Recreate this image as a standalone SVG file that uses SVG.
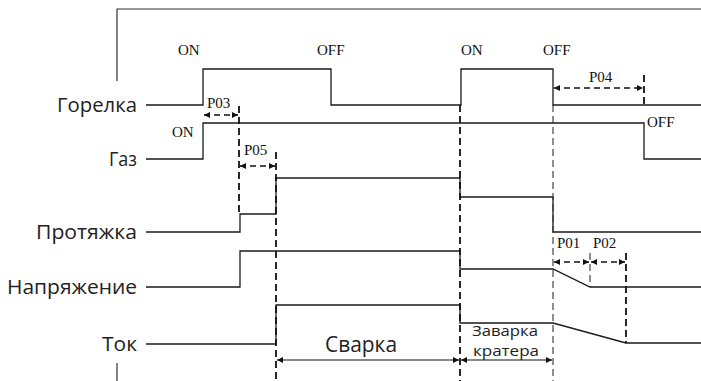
<svg xmlns="http://www.w3.org/2000/svg" width="701" height="381" viewBox="0 0 701 381">
<style>
.sig{fill:none;stroke:#1a1a1a;stroke-width:1.3}
.frame{fill:none;stroke:#333;stroke-width:1.2}
.dk{fill:none;stroke:#111;stroke-width:1.8;stroke-dasharray:7 4}
.dl{fill:none;stroke:#333;stroke-width:1.1;stroke-dasharray:7 4}
.arr{fill:none;stroke:#111;stroke-width:1.6;stroke-dasharray:6 4;marker-start:url(#ah);marker-end:url(#ah)}
.arrs{fill:none;stroke:#111;stroke-width:1.2;marker-start:url(#ah);marker-end:url(#ah)}
.lbl{font-family:"Open Sans","Noto Sans",sans-serif;font-size:20px;fill:#222;text-anchor:end}
.ser{font-family:"Liberation Serif",serif;font-size:15px;fill:#111}
.cap{font-family:"Open Sans","Noto Sans",sans-serif;fill:#222;text-anchor:middle}
</style>
<defs>
<marker id="ah" viewBox="0 0 10 10" refX="10" refY="5" markerWidth="7" markerHeight="6" markerUnits="userSpaceOnUse" orient="auto-start-reverse">
<path d="M0,0 L10,5 L0,10 Z" fill="#111"/>
</marker>
</defs>
<rect width="701" height="381" fill="#fff"/>
<g id="frame">
<path class="frame" d="M117,81 V9 H701"/>
<path class="frame" d="M117,363 V381"/>
</g>
<g id="labels">
<text class="lbl" x="137" y="112" textLength="80" lengthAdjust="spacingAndGlyphs">Горелка</text>
<text class="lbl" x="137" y="166" textLength="28" lengthAdjust="spacingAndGlyphs">Газ</text>
<text class="lbl" x="137" y="239" textLength="101" lengthAdjust="spacingAndGlyphs">Протяжка</text>
<text class="lbl" x="137" y="294" textLength="130" lengthAdjust="spacingAndGlyphs">Напряжение</text>
<text class="lbl" x="137" y="351" textLength="35" lengthAdjust="spacingAndGlyphs">Ток</text>
</g>
<g id="signals">
<path id="gorelka" class="sig" d="M146,105 H203 V69 H331 V105 H461 V69 H553 V105 H701"/>
<path id="gaz" class="sig" d="M146,159 H203 V123 H644 V159 H701"/>
<path id="protyazhka" class="sig" d="M146,232 H240 V214 H276 V178 H460 V197 H553 V232 H701"/>
<path id="napryazhenie" class="sig" d="M146,287 H240 V251 H460 V269 H553 L590,287 H701"/>
<path id="tok" class="sig" d="M146,344 H276 V305 H460 V323 H553 L626,343 H701"/>
</g>
<g id="connectors">
<path class="dk" d="M239,106 V214"/>
<path class="dk" d="M276,152 V381"/>
<path class="dk" d="M460,105 V381"/>
<path class="dl" d="M553,105 V381"/>
<path class="dl" d="M590,253 V287"/>
<path class="dk" d="M626,253 V343"/>
<path class="dk" d="M644,75 V105"/>
<path class="arr" d="M204,115 H238"/>
<path class="arr" d="M240,166 H275"/>
<path class="arr" d="M554,88 H643"/>
<path class="arr" d="M554,262 H589"/>
<path class="arr" d="M591,262 H625"/>
<path class="arrs" d="M277,360 H459"/>
<path class="arrs" d="M461,360 H552"/>
</g>
<g id="texts">
<text class="ser" x="178" y="55">ON</text>
<text class="ser" x="317" y="55">OFF</text>
<text class="ser" x="461" y="55">ON</text>
<text class="ser" x="543" y="55">OFF</text>
<text class="ser" x="172" y="137">ON</text>
<text class="ser" x="647" y="127">OFF</text>
<text class="ser" x="207" y="108">P03</text>
<text class="ser" x="244" y="155">P05</text>
<text class="ser" x="589" y="82">P04</text>
<text class="ser" x="557" y="248">P01</text>
<text class="ser" x="593" y="248">P02</text>
<text class="cap" x="361" y="352" font-size="21" textLength="72" lengthAdjust="spacingAndGlyphs">Сварка</text>
<text class="cap" x="505" y="336" font-size="14.5" textLength="66" lengthAdjust="spacingAndGlyphs">Заварка</text>
<text class="cap" x="506" y="356" font-size="14.5" textLength="66" lengthAdjust="spacingAndGlyphs">кратера</text>
</g>
</svg>
